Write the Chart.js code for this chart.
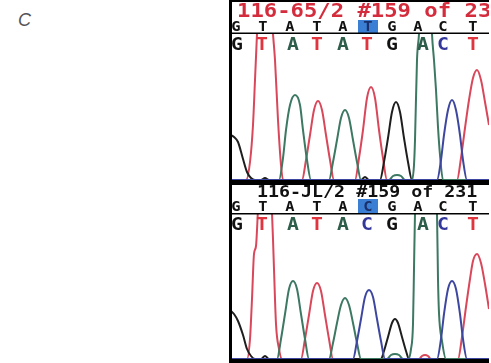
<!DOCTYPE html>
<html>
<head>
<meta charset="utf-8">
<script src="https://cdn.jsdelivr.net/npm/chart.js@4.4.0/dist/chart.umd.min.js"></script>
<style>
body{margin:0;background:#fff;width:491px;height:363px;overflow:hidden;position:relative;}
#label{position:absolute;left:18px;top:11px;font:italic 18px/1 "Liberation Sans",Arial,sans-serif;color:#555;}
.panel{position:absolute;left:229px;width:260px;}
canvas{display:block;}
</style>
</head>
<body>
<div id="label">C</div>
<div class="panel" style="top:0;height:182px"><canvas id="top" width="260" height="182"></canvas></div>
<div class="panel" style="top:182px;height:181px"><canvas id="bottom" width="260" height="181"></canvas></div>
<script>
// ---------- sequence data ----------
const topTitle = "116-65/2 #159 of 231";
const bottomTitle = "116-JL/2 #159 of 231";

const topRef = ["G","T","A","T","A","T","G","A","C","T"];
const topCalls = ["G","T","A","T","A","T","G","A","C","T"];
const bottomRef = ["G","T","A","T","A","C","G","A","C","T"];
const bottomCalls = ["G","T","A","T","A","C","G","A","C","T"];

// scan positions of the letters
const refPos = [5,32,59,86,112,137,161,187,212,242];
const callPos = [6,31,62,86,112,136,161,192,212,242];
const highlightIndex = 5;

// ---------- traces (scan position, signal) ----------
// top: 116-65/2
const topG = [[0,45],[3,43],[7,38],[12,21],[16,8],[20,2],[24,0],[30,0],[34,2],[38,0],[130,0],[134,3],[138,0],[149,0],[153,18],[157,42],[161,68],[165,78],[169,68],[173,42],[177,18],[181,0],[258,0]];
const topA = [[0,0],[48,0],[52,22],[55,50],[59,75],[64,85],[69,75],[72,50],[76,20],[80,0],[98,0],[102,18],[106,40],[110,62],[114,70],[118,62],[122,40],[126,18],[130,0],[158,0],[162,4],[166,5],[170,4],[174,0],[181,0],[183,15],[184,40],[186,120],[188,146],[192,230],[195,250],[198,230],[201,146],[203,120],[205,90],[207,53],[209,25],[212,0],[258,0]];
const topT = [[0,0],[15,0],[19,18],[22,55],[24,100],[26,146],[29,215],[33,245],[37,215],[42,146],[44,120],[47,60],[50,15],[52,0],[71,0],[75,20],[79,45],[83,70],[87,79],[91,70],[95,45],[99,20],[103,0],[124,0],[128,22],[132,50],[136,82],[140,93],[144,82],[148,50],[152,22],[156,0],[226,0],[230,22],[234,52],[238,80],[242,102],[246,110],[250,100],[254,78],[258,55]];
const topC = [[0,0],[206,0],[210,20],[213,45],[217,70],[221,80],[225,70],[229,45],[232,20],[236,0],[258,0]];

// bottom: 116-JL/2
const bottomG = [[0,48],[3,45],[7,38],[12,24],[16,10],[20,3],[24,0],[30,0],[34,3],[38,0],[150,0],[153,8],[157,22],[161,36],[164,40],[167,36],[171,22],[175,8],[178,0],[258,0]];
const bottomA = [[0,0],[46,0],[50,20],[54,45],[58,70],[62,78],[66,70],[70,45],[74,20],[78,0],[98,0],[102,16],[106,36],[110,54],[114,61],[118,54],[122,36],[126,16],[130,0],[156,0],[160,4],[164,5],[168,4],[172,0],[177,0],[180,10],[182,35],[183,90],[184,146],[189,230],[195,260],[201,230],[206,146],[207,80],[208,46],[211,18],[215,0],[258,0]];
const bottomT = [[0,0],[16,0],[19,20],[21,60],[23,105],[25,113],[27,150],[30,210],[34,240],[38,210],[41,146],[42,120],[43,90],[45,35],[48,10],[51,0],[70,0],[74,20],[78,44],[82,68],[86,76],[90,68],[94,44],[98,20],[102,0],[188,0],[191,3],[194,4],[197,3],[200,0],[227,0],[231,22],[235,52],[239,80],[242,98],[246,105],[250,96],[254,75],[258,50]];
const bottomC = [[0,0],[122,0],[126,18],[130,40],[134,62],[138,69],[142,62],[146,40],[150,18],[154,0],[206,0],[210,20],[213,45],[217,70],[221,78],[225,70],[229,45],[232,20],[236,0],[258,0]];

// colours
const traceColor = {A:"#3c7862", C:"#3d47a0", G:"#1e1e1e", T:"#d9475a"};
const letterColor = {A:"#2c5e4a", C:"#34379a", G:"#111111", T:"#e0353f"};

function trace(label, pts){
    return {
        label: label,
        data: pts.map(p => ({x:p[0], y:p[1]})),
        borderColor: traceColor[label],
        borderWidth: 2,
        pointRadius: 0,
        fill: false,
        cubicInterpolationMode: "monotone",
        clip: 0
    };
}

// draws text stretched sideways like the old pixel font
function wideText(ctx, text, x, y, sx){
    ctx.save();
    ctx.translate(x, y);
    ctx.scale(sx, 1);
    ctx.fillText(text, 0, 0);
    ctx.restore();
}

function panelPlugin(o){
    return {
        id: "panel",
        afterDraw(chart){
            const ctx = chart.ctx;
            const xs = chart.scales.x;
            const W = chart.width, H = chart.height;
            ctx.save();
            ctx.fillStyle = "#000";
            ctx.fillRect(0, o.topBorder, W, o.topBorderH);

            // header
            ctx.fillStyle = o.titleColor;
            ctx.font = o.titleFont;
            ctx.textAlign = "left";
            ctx.textBaseline = "alphabetic";
            wideText(ctx, o.title, o.titleX, o.titleY, o.titleScale);

            // reference row with highlighted base
            const hx = xs.getPixelForValue(refPos[highlightIndex]);
            ctx.fillStyle = "#3a7fd4";
            ctx.fillRect(hx - 10, o.boxTop, 20, o.boxH);
            ctx.font = 'bold 14px "DejaVu Sans Mono"';
            ctx.textAlign = "center";
            o.ref.forEach((b, i) => {
                ctx.fillStyle = i === highlightIndex ? "#1b2f6a" : "#111";
                wideText(ctx, b, xs.getPixelForValue(refPos[i]), o.refY, 1.1);
            });
            ctx.fillStyle = "#000";
            ctx.fillRect(0, o.lineY, W, 1.5);

            // base calls
            ctx.font = 'bold 18px "DejaVu Sans Mono"';
            o.calls.forEach((b, i) => {
                ctx.fillStyle = letterColor[b];
                wideText(ctx, b, xs.getPixelForValue(callPos[i]), o.callY, 1.1);
            });

            ctx.fillStyle = "#000";
            ctx.fillRect(0, o.bottomBorder, W, o.bottomBorderH);
            ctx.fillRect(0, 0, 3, H);
            ctx.restore();
        }
    };
}

function makePanel(id, traces, pad, ymax, o){
    return new Chart(document.getElementById(id), {
        type: "line",
        data: {datasets: traces},
        options: {
            animation: false,
            responsive: false,
            events: [],
            layout: {padding: pad},
            plugins: {legend: {display: false}, tooltip: {enabled: false}},
            scales: {
                x: {type: "linear", min: 0, max: 258, display: false},
                y: {min: 0, max: ymax, display: false}
            }
        },
        plugins: [panelPlugin(o)]
    });
}

makePanel("top",
    [trace("C", topC), trace("A", topA), trace("G", topG), trace("T", topT)],
    {left: 2, right: 0, top: 34, bottom: 2}, 146,
    {
        title: topTitle, titleColor: "#d42c3c", titleFont: 'bold 19px "DejaVu Sans Mono"',
        titleX: 8, titleY: 17, titleScale: 1.17,
        ref: topRef, calls: topCalls,
        boxTop: 20, boxH: 13, refY: 31, lineY: 32.5, callY: 50,
        topBorder: 0, topBorderH: 2, bottomBorder: 180, bottomBorderH: 2
    });

makePanel("bottom",
    [trace("C", bottomC), trace("A", bottomA), trace("G", bottomG), trace("T", bottomT)],
    {left: 2, right: 0, top: 32, bottom: 4}, 145,
    {
        title: bottomTitle, titleColor: "#111", titleFont: 'bold 15px "DejaVu Sans Mono"',
        titleX: 28, titleY: 15, titleScale: 1.22,
        ref: bottomRef, calls: bottomCalls,
        boxTop: 17, boxH: 14, refY: 29, lineY: 31, callY: 48,
        topBorder: 0, topBorderH: 3, bottomBorder: 177, bottomBorderH: 4
    });
</script>
</body>
</html>
